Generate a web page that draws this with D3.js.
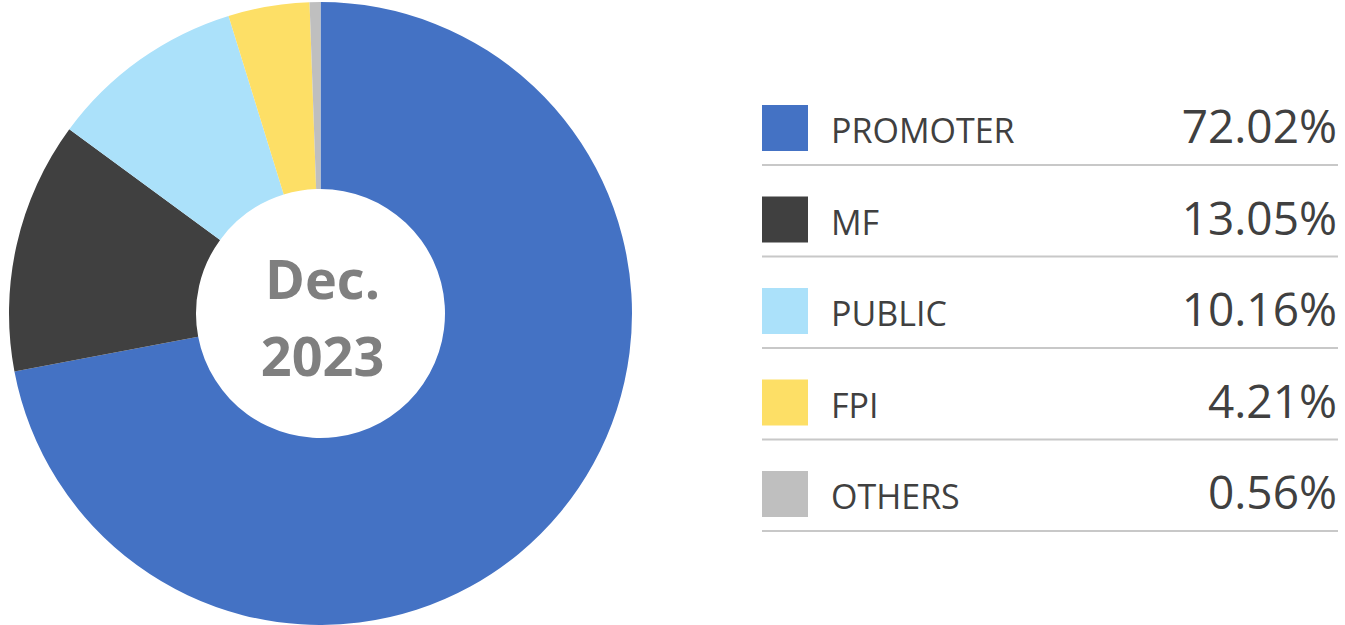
<!DOCTYPE html>
<html>
<head>
<meta charset="utf-8">
<script src="https://cdn.jsdelivr.net/npm/d3@7"></script>
<style>
  body { margin: 0; background: #fff; }
  svg { display: block; font-family: "Open Sans", sans-serif; }
</style>
</head>
<body>
<svg></svg>
<script>
const categories = ["PROMOTER", "MF", "PUBLIC", "FPI", "OTHERS"]
const shares = [72.02, 13.05, 10.16, 4.21, 0.56]
const colors = ["#4472C4", "#404040", "#ABE1FA", "#FDDF66", "#BFBFBF"]
const centerLines = ["Dec.", "2023"]

let width = 1345
let height = 625

let cx = 320.5
let cy = 313.5
let outerR = 311.5
let innerR = 124.5

let svg = d3.select("svg")
    .attr("width", width)
    .attr("height", height)

const data = categories.map((c, i) => ({ name: c, value: shares[i], color: colors[i] }))

const drawDonut = () => {
    let pie = d3.pie()
                .sort(null)
                .value(d => d.value)

    let arc = d3.arc()
                .innerRadius(innerR)
                .outerRadius(outerR)

    let g = svg.append("g")
        .attr("transform", "translate(" + cx + "," + cy + ")")

    g.selectAll("path")
        .data(pie(data))
        .enter()
        .append("path")
        .attr("d", arc)
        .attr("fill", d => d.data.color)

    g.selectAll("text")
        .data(centerLines)
        .enter()
        .append("text")
        .attr("text-anchor", "middle")
        .attr("x", 2)
        .attr("y", (d, i) => i === 0 ? -15 + 0 : 62)
        .attr("font-size", 54)
        .attr("font-weight", "bold")
        .attr("fill", "#7F7F7F")
        .text(d => d)
}

const drawLegend = () => {
    let rowY = d3.scalePoint()
                 .domain(categories)
                 .range([105, 471])

    let rows = svg.selectAll(".row")
        .data(data)
        .enter()
        .append("g")
        .attr("class", "row")
        .attr("transform", d => "translate(0," + rowY(d.name) + ")")

    rows.append("rect")
        .attr("x", 762)
        .attr("y", 0)
        .attr("width", 46)
        .attr("height", 46)
        .attr("fill", d => d.color)

    rows.append("text")
        .attr("x", 831)
        .attr("y", 38)
        .attr("font-size", 34)
        .attr("fill", "#404040")
        .text(d => d.name)

    rows.append("text")
        .attr("x", 1337)
        .attr("y", 38)
        .attr("text-anchor", "end")
        .attr("font-size", 46)
        .attr("fill", "#404040")
        .text(d => d.value.toFixed(2) + "%")

    rows.append("line")
        .attr("x1", 762)
        .attr("x2", 1338)
        .attr("y1", 60)
        .attr("y2", 60)
        .attr("stroke", "#C8C8C8")
        .attr("stroke-width", 2)
}

drawDonut()
drawLegend()
</script>
</body>
</html>
